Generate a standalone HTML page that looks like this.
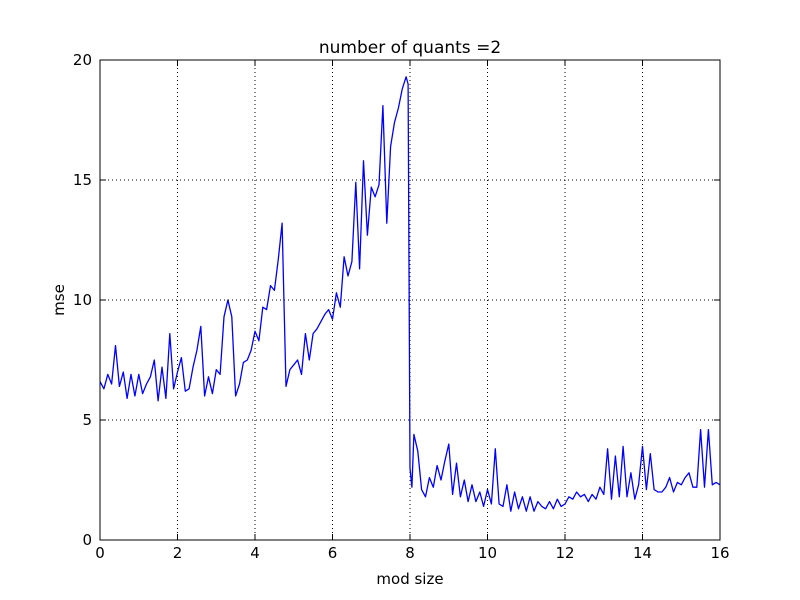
<!DOCTYPE html>
<html><head><meta charset="utf-8"><style>
body{margin:0;background:#fff;}
svg{display:block;font-family:"DejaVu Sans","Liberation Sans",sans-serif;}
</style></head><body>
<svg id="chart" width="800" height="600">
<rect x="0" y="0" width="800" height="600" fill="#fff"/>
<g id="grid"></g>
<g id="series"></g>
<rect x="100" y="60" width="620" height="480" fill="none" stroke="#000" stroke-width="1"/>
<g id="ticks"></g>
<text x="410" y="53" text-anchor="middle" font-size="17">number of quants =2</text>
<text x="410" y="584" text-anchor="middle" font-size="15">mod size</text>
<text x="64" y="300" text-anchor="middle" font-size="15" transform="rotate(-90 64 300)">mse</text>
</svg>
<script>
const xTicks=[0,2,4,6,8,10,12,14,16];
const yTicks=[0,5,10,15,20];
const xs=[0,0.1,0.2,0.3,0.4,0.5,0.6,0.7,0.8,0.9,1.0,1.1,1.2,1.3,1.4,1.5,1.6,1.7,1.8,1.9,2.0,2.1,2.2,2.3,2.4,2.5,2.6,2.7,2.8,2.9,3.0,3.1,3.2,3.3,3.4,3.5,3.6,3.7,3.8,3.9,4.0,4.1,4.2,4.3,4.4,4.5,4.6,4.7,4.8,4.9,5.0,5.1,5.2,5.3,5.4,5.5,5.6,5.7,5.8,5.9,6.0,6.1,6.2,6.3,6.4,6.5,6.6,6.7,6.8,6.9,7.0,7.1,7.2,7.3,7.4,7.5,7.6,7.7,7.8,7.9,7.95,8.0,8.05,8.1,8.2,8.3,8.4,8.5,8.6,8.7,8.8,8.9,9.0,9.1,9.2,9.3,9.4,9.5,9.6,9.7,9.8,9.9,10.0,10.1,10.2,10.3,10.4,10.5,10.6,10.7,10.8,10.9,11.0,11.1,11.2,11.3,11.4,11.5,11.6,11.7,11.8,11.9,12.0,12.1,12.2,12.3,12.4,12.5,12.6,12.7,12.8,12.9,13.0,13.1,13.2,13.3,13.4,13.5,13.6,13.7,13.8,13.9,14.0,14.1,14.2,14.3,14.4,14.5,14.6,14.7,14.8,14.9,15.0,15.1,15.2,15.3,15.4,15.5,15.6,15.7,15.8,15.9,16.0];
const ys=[6.6,6.3,6.9,6.5,8.1,6.4,7.0,5.9,6.9,6.0,6.9,6.1,6.5,6.8,7.5,5.8,7.2,5.9,8.6,6.3,7.0,7.6,6.2,6.3,7.2,7.9,8.9,6.0,6.8,6.1,7.1,6.9,9.3,10.0,9.3,6.0,6.5,7.4,7.5,7.9,8.7,8.3,9.7,9.6,10.6,10.4,11.7,13.2,6.4,7.1,7.3,7.5,6.9,8.6,7.5,8.6,8.8,9.1,9.4,9.6,9.2,10.3,9.7,11.8,11.0,11.6,14.9,11.3,15.8,12.7,14.7,14.3,14.8,18.1,13.2,16.4,17.4,18.0,18.8,19.3,19.0,3.0,2.2,4.4,3.7,2.1,1.8,2.6,2.2,3.1,2.5,3.3,4.0,1.9,3.2,1.8,2.5,1.6,2.3,1.6,2.0,1.4,2.1,1.5,3.8,1.5,1.4,2.3,1.2,2.0,1.3,1.8,1.2,1.8,1.2,1.6,1.4,1.3,1.6,1.3,1.7,1.4,1.5,1.8,1.7,2.0,1.8,1.9,1.6,1.9,1.7,2.2,1.9,3.8,1.7,3.5,1.8,3.9,1.8,2.8,1.7,2.3,3.9,2.1,3.6,2.1,2.0,2.0,2.2,2.6,2.0,2.4,2.3,2.6,2.8,2.2,2.2,4.6,2.2,4.6,2.3,2.4,2.3];
const NS='http://www.w3.org/2000/svg';
const X=v=>100+v/16*620, Y=v=>540-v/20*480;
const grid=document.getElementById('grid'),ticks=document.getElementById('ticks'),series=document.getElementById('series');
function mk(tag,attrs,parent){const e=document.createElementNS(NS,tag);for(const k in attrs)e.setAttribute(k,attrs[k]);parent.appendChild(e);return e;}
xTicks.forEach(t=>{
  const x=X(t);
  const g=mk('line',{x1:x,x2:x,y1:60,y2:540,stroke:'#000','stroke-dasharray':'1,3','stroke-width':1},grid);
  
  
  mk('line',{x1:x,x2:x,y1:540,y2:534,stroke:'#000'},ticks);
  mk('line',{x1:x,x2:x,y1:60,y2:66,stroke:'#000'},ticks);
  const l=mk('text',{x:x,y:558,'text-anchor':'middle','font-size':15},ticks);
  l.textContent=t;
  
  
});
yTicks.forEach(t=>{
  const y=Y(t);
  const g=mk('line',{x1:100,x2:720,y1:y,y2:y,stroke:'#000','stroke-dasharray':'1,3','stroke-width':1},grid);
  
  
  mk('line',{x1:100,x2:106,y1:y,y2:y,stroke:'#000'},ticks);
  mk('line',{x1:714,x2:720,y1:y,y2:y,stroke:'#000'},ticks);
  const l=mk('text',{x:92,y:y+5,'text-anchor':'end','font-size':15},ticks);
  l.textContent=t;
  
  
});
const pts=xs.map((x,i)=>X(x).toFixed(1)+','+Y(ys[i]).toFixed(1)).join(' ');
const line=mk('polyline',{points:pts,fill:'none',stroke:'#0000ff','stroke-width':1.3,'stroke-linejoin':'round'},series);


</script>
</body></html>
